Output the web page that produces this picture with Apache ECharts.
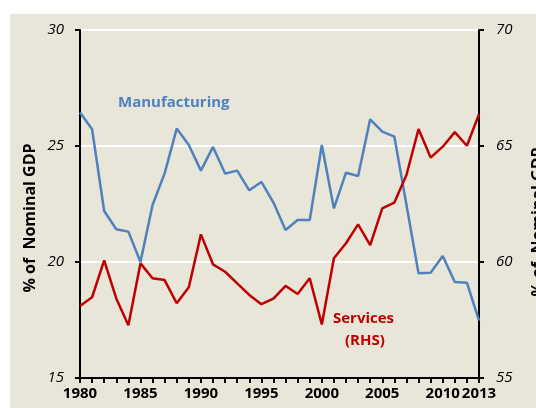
<!DOCTYPE html>
<html><head><meta charset="utf-8">
<script src="https://cdn.jsdelivr.net/npm/echarts@6/dist/echarts.min.js"></script>
<style>html,body{margin:0;padding:0;background:#fff}#c{width:536px;height:408px}</style>
</head><body><div id="c"></div>
<script>
var years = [];
for (var y = 1980; y <= 2013; y++) years.push(String(y));
var manufacturing = [26.44,25.72,22.2,21.41,21.31,20.0,22.46,23.82,25.75,25.04,23.94,24.96,23.81,23.94,23.09,23.45,22.56,21.38,21.81,21.81,25.04,22.31,23.85,23.71,26.15,25.62,25.40,22.47,19.51,19.54,20.26,19.14,19.11,17.47];
var services = [58.1,58.48,60.07,58.43,57.27,59.94,59.3,59.22,58.22,58.91,61.19,59.9,59.58,59.08,58.58,58.18,58.42,58.97,58.62,59.3,57.31,60.16,60.81,61.62,60.73,62.31,62.56,63.75,65.73,64.5,64.97,65.6,65.01,66.37];
var leftTicks = [15,20,25,30];
var rightTicks = [55,60,65,70];
var axisName = '% of  Nominal GDP';
var labelFont = '"Open Sans", "Liberation Sans", sans-serif';

var chart = echarts.init(document.getElementById('c'), null, {renderer:'canvas'});
chart.setOption({
  animation:false,
  backgroundColor:'#ffffff',
  graphic:[
    {type:'rect', z:-10, silent:true, shape:{x:10,y:14,width:526,height:394}, style:{fill:'#E8E5D9'}},
    {type:'text', left:118, top:95, style:{text:'Manufacturing', fill:'#4F81BD', font:'bold 15px ' + labelFont}},
    {type:'text', left:333, top:311, style:{text:'Services', fill:'#C00000', font:'bold 15px ' + labelFont}},
    {type:'text', left:345, top:333, style:{text:'(RHS)', fill:'#C00000', font:'bold 15px ' + labelFont}},
    {type:'text', x:30, y:218, rotation:Math.PI/2, silent:true,
     style:{text:axisName, fill:'#000', font:'bold 16px ' + labelFont, align:'center', verticalAlign:'middle'}},
    {type:'text', x:538, y:222, rotation:Math.PI/2, silent:true,
     style:{text:axisName, fill:'#000', font:'bold 16px ' + labelFont, align:'center', verticalAlign:'middle'}}
  ],
  grid:{left:80, right:57, top:30, bottom:30, containLabel:false, outerBoundsMode:'none'},
  xAxis:{
    type:'category', data:years, boundaryGap:false,
    axisLine:{lineStyle:{color:'#000', width:2}},
    axisTick:{show:true, interval:0, length:5, lineStyle:{color:'#000', width:2}},
    axisLabel:{
      interval:function(i){ return i % 5 === 0 || i === years.length - 1; },
      hideOverlap:false,
      color:'#000', fontWeight:'bold', fontSize:15, fontFamily:labelFont, margin:8
    },
    splitLine:{show:false}
  },
  yAxis:[
    {type:'value', min:leftTicks[0], max:leftTicks[leftTicks.length-1], interval:5, position:'left',
     axisLine:{show:true, lineStyle:{color:'#000', width:2}},
     axisTick:{show:true, length:5, lineStyle:{color:'#000', width:2}},
     axisLabel:{color:'#000', fontStyle:'italic', fontSize:15, fontFamily:labelFont, margin:16},
     splitLine:{show:true, lineStyle:{color:'#ffffff', width:2}}},
    {type:'value', min:rightTicks[0], max:rightTicks[rightTicks.length-1], interval:5, position:'right',
     axisLine:{show:true, lineStyle:{color:'#000', width:2}},
     axisTick:{show:true, length:5, lineStyle:{color:'#000', width:2}},
     axisLabel:{color:'#000', fontStyle:'italic', fontSize:15, fontFamily:labelFont, margin:17},
     splitLine:{show:false}}
  ],
  series:[
    {name:'Manufacturing', type:'line', yAxisIndex:0, data:manufacturing, symbol:'none',
     lineStyle:{color:'#4F81BD', width:2.5}, itemStyle:{color:'#4F81BD'}},
    {name:'Services (RHS)', type:'line', yAxisIndex:1, data:services, symbol:'none',
     lineStyle:{color:'#C00000', width:2.5}, itemStyle:{color:'#C00000'}}
  ]
});
</script></body></html>
